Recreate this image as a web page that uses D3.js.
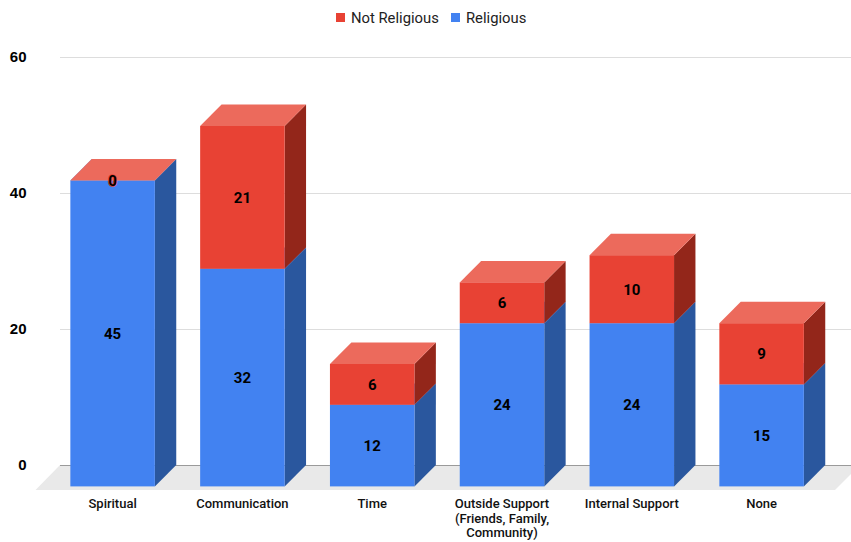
<!DOCTYPE html>
<html>
<head>
<meta charset="utf-8">
<style>
    html, body { margin: 0; padding: 0; background: #fff; }
    svg { display: block; font-family: Roboto, sans-serif; }
</style>
<script src="https://cdn.jsdelivr.net/npm/d3@7"></script>
</head>
<body>
<svg id="chart" width="851" height="542"></svg>
<script>
var categories = ['Spiritual', 'Communication', 'Time', 'Outside Support\n(Friends, Family,\nCommunity)', 'Internal Support', 'None']
var religious = [45, 32, 12, 24, 24, 15]
var notReligious = [0, 21, 6, 6, 10, 9]
var yTicks = [0, 20, 40, 60]
var seriesNames = ['Religious', 'Not Religious']

var colors = {
    'Religious': { front: '#4282f1', top: '#6a9ef6', side: '#2a579e' },
    'Not Religious': { front: '#e84234', top: '#ec6a5c', side: '#93261a' }
}

// how far the front of a bar sits from the back wall
var depth = 21.4

var svg = d3.select('#chart')

var x = d3.scaleBand()
    .domain(categories)
    .range([47.7, 826.5])
    .paddingInner(0.349)
    .paddingOuter(0.1745)

var y = d3.scaleLinear().domain([0, 60]).range([465, 57])

// floor
svg.append('path')
    .attr('d', 'M60 ' + y(0) + ' L860 ' + y(0) + ' L835 490 L35.5 490 Z')
    .attr('fill', '#e9e9e9')

// gridlines and value axis
var axis = svg.append('g')
    .attr('transform', 'translate(60,0)')
    .call(d3.axisLeft(y).tickValues(yTicks).tickFormat(d3.format('d')).tickSize(-791).tickPadding(33.5))

axis.select('.domain').remove()
axis.selectAll('line')
    .attr('stroke', function (d) { return d === 0 ? '#9a9a9a' : '#dddddd' })
    .attr('stroke-width', 1.2)
axis.selectAll('text')
    .attr('fill', '#000')
    .style('font-size', '15px')
    .style('font-weight', 700)

var rows = categories.map(function (c, i) {
    return { category: c, 'Religious': religious[i], 'Not Religious': notReligious[i] }
})
var stacked = d3.stack().keys(seriesNames)(rows)

function facePath(points) {
    return 'M' + points.map(function (p) { return p.join(' ') }).join(' L') + ' Z'
}

var series = svg.selectAll('.series')
    .data(stacked)
    .enter()
    .append('g')
    .attr('class', 'series')

var segments = series.selectAll('.segment')
    .data(function (s) {
        return s.map(function (d) {
            return { key: s.key, category: d.data.category, low: d[0], high: d[1] }
        })
    })
    .enter()
    .append('g')
    .attr('class', 'segment')

// side face
segments.append('path')
    .attr('fill', function (d) { return colors[d.key].side })
    .attr('d', function (d) {
        var right = x(d.category) + x.bandwidth()
        return facePath([
            [right, y(d.high) + depth],
            [right + depth, y(d.high)],
            [right + depth, y(d.low)],
            [right, y(d.low) + depth]
        ])
    })

// top face
segments.append('path')
    .attr('fill', function (d) { return colors[d.key].top })
    .attr('d', function (d) {
        var left = x(d.category)
        var right = left + x.bandwidth()
        return facePath([
            [left, y(d.high) + depth],
            [left + depth, y(d.high)],
            [right + depth, y(d.high)],
            [right, y(d.high) + depth]
        ])
    })

// front face
segments.append('rect')
    .attr('fill', function (d) { return colors[d.key].front })
    .attr('x', function (d) { return x(d.category) })
    .attr('y', function (d) { return y(d.high) + depth })
    .attr('width', x.bandwidth())
    .attr('height', function (d) { return y(d.low) - y(d.high) })

// value labels go on last so the top faces never cover them
svg.selectAll('.series-labels')
    .data(stacked)
    .enter()
    .append('g')
    .attr('class', 'series-labels')
    .selectAll('text')
    .data(function (s) {
        return s.map(function (d) {
            return { key: s.key, category: d.data.category, low: d[0], high: d[1] }
        })
    })
    .enter()
    .append('text')
    .attr('x', function (d) { return x(d.category) + x.bandwidth() / 2 })
    .attr('y', function (d) { return y((d.low + d.high) / 2) + depth })
    .attr('dy', '0.36em')
    .attr('text-anchor', 'middle')
    .attr('fill', '#000')
    .attr('stroke', function (d) { return colors[d.key].front })
    .attr('stroke-width', 1.5)
    .attr('paint-order', 'stroke')
    .style('font-size', '15px')
    .style('font-weight', 700)
    .text(function (d) { return d.high - d.low })

// category labels
var labels = svg.selectAll('.category')
    .data(categories)
    .enter()
    .append('text')
    .attr('class', 'category')
    .attr('text-anchor', 'middle')
    .attr('fill', '#111')
    .style('font-size', '13px')
    .style('font-weight', 500)

labels.selectAll('tspan')
    .data(function (d) {
        return d.split('\n').map(function (line) { return { line: line, category: d } })
    })
    .enter()
    .append('tspan')
    .attr('x', function (d) { return x(d.category) + x.bandwidth() / 2 })
    .attr('y', function (d, i) { return 508 + i * 14.6 })
    .text(function (d) { return d.line })

// legend, top series first
var legendX = { 'Not Religious': 336, 'Religious': 451 }
var legend = svg.selectAll('.legend')
    .data(seriesNames.slice().reverse())
    .enter()
    .append('g')
    .attr('class', 'legend')
    .attr('transform', function (d) { return 'translate(' + legendX[d] + ',13)' })

legend.append('rect')
    .attr('width', 9)
    .attr('height', 9)
    .attr('fill', function (d) { return colors[d].front })

legend.append('text')
    .attr('x', 15)
    .attr('y', 10)
    .attr('fill', '#222')
    .style('font-size', '14.8px')
    .text(function (d) { return d })
</script>
</body>
</html>
